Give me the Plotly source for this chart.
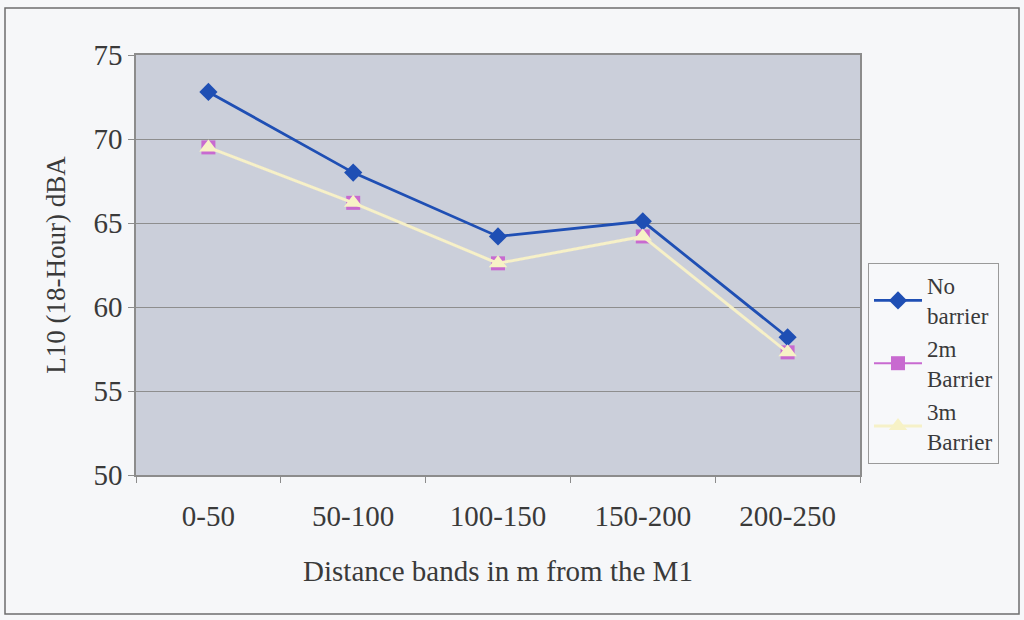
import plotly.graph_objects as go

categories = ["0-50", "50-100", "100-150", "150-200", "200-250"]
no_barrier = [72.8, 68.0, 64.2, 65.1, 58.2]
barrier_2m = [69.5, 66.2, 62.6, 64.2, 57.3]
barrier_3m = [69.5, 66.2, 62.6, 64.2, 57.3]
series_names = ["No<br>barrier", "2m<br>Barrier", "3m<br>Barrier"]

FONT = "Liberation Serif, Times New Roman, serif"
TXT = "#3a3a3a"

fig = go.Figure()
fig.add_trace(go.Scatter(
    x=categories, y=no_barrier, name=series_names[0], mode="lines+markers",
    line=dict(color="#1f4fb4", width=2.8),
    marker=dict(symbol="diamond", size=14, color="#1f4fb4"),
))
fig.add_trace(go.Scatter(
    x=categories, y=barrier_2m, name=series_names[1], mode="lines+markers",
    line=dict(color="#c86ad0", width=2),
    marker=dict(symbol="square", size=14, color="#c86ad0"),
))
fig.add_trace(go.Scatter(
    x=categories, y=barrier_3m, name=series_names[2], mode="lines+markers",
    line=dict(color="#f6f1c8", width=3),
    marker=dict(symbol="triangle-up", size=16, color="#f7f2c6"),
))

L, R, T, B = 136, 164, 55, 145
W, H = 1024, 620
pw, ph = W - L - R, H - T - B

def px_x(x):
    return (x - L) / pw

def px_y(y):
    return (H - B - y) / ph

fig.update_layout(
    width=W, height=H,
    margin=dict(l=L, r=R, t=T, b=B),
    paper_bgcolor="#f6f7f9",
    plot_bgcolor="#cbcfda",
    font=dict(family=FONT, color=TXT, size=29),
    showlegend=True,
    legend=dict(
        x=px_x(868), y=px_y(263), xanchor="left", yanchor="top",
        bgcolor="#f7f8fa", bordercolor="#9a9a9a", borderwidth=1,
        font=dict(family=FONT, size=23, color=TXT),
        itemwidth=48, tracegroupgap=4,
    ),
    xaxis=dict(
        type="category", range=[-0.5, 4.5],
        showgrid=False, zeroline=False,
        showline=True, linecolor="#8c8c8c", linewidth=1.5,
        ticks="outside", ticklen=6, tickcolor="#8c8c8c",
        tickson="boundaries", ticklabelstandoff=14,
        tickfont=dict(family=FONT, size=29, color=TXT),
        title=dict(text="Distance bands in m from the M1",
                   font=dict(family=FONT, size=29, color=TXT), standoff=30),
        mirror=True,
    ),
    yaxis=dict(
        range=[50, 75], dtick=5,
        showgrid=True, gridcolor="#8e8e8e", gridwidth=1,
        zeroline=False,
        showline=True, linecolor="#8c8c8c", linewidth=1.5,
        ticks="outside", ticklen=6, tickcolor="#8c8c8c",
        tickfont=dict(family=FONT, size=29, color=TXT),
        title=dict(text="L10 (18-Hour) dBA",
                   font=dict(family=FONT, size=27, color=TXT), standoff=20),
        mirror=True,
    ),
    shapes=[dict(
        type="rect", xref="paper", yref="paper",
        x0=px_x(5), x1=px_x(1019), y0=px_y(614), y1=px_y(8),
        line=dict(color="#6e6e6e", width=1.5), fillcolor="rgba(0,0,0,0)",
        layer="below",
    )],
)

fig.write_html(
    "out.html",
    config={"displayModeBar": False},
    post_script="document.body.style.margin='0px';document.body.style.overflow='hidden';",
)
